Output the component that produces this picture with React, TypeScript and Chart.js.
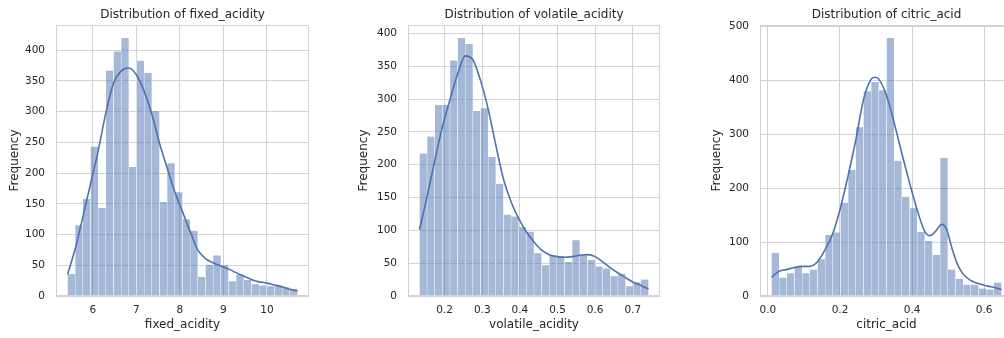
import React, { useEffect, useRef } from "react";
import { Chart, registerables } from "chart.js";

Chart.register(...registerables);

// ---------------- data ----------------
// fixed_acidity histogram (30 bins between first and last edge)
const fixedAcidityEdges = [5.42, 10.70];
const fixedAcidityCounts = [36, 115, 158, 243, 143, 367, 398, 420, 210, 383, 363, 301, 153, 216, 169, 125, 106, 31, 51, 66, 50, 24, 35, 26, 19, 17, 16, 17, 14, 12];
const fixedAcidityKdeX = [5.42, 5.60, 5.77, 5.95, 6.12, 6.30, 6.48, 6.65, 6.83, 7.00, 7.18, 7.36, 7.53, 7.71, 7.88, 8.06, 8.24, 8.41, 8.59, 8.76, 8.94, 9.12, 9.29, 9.47, 9.64, 9.82, 10.00, 10.17, 10.35, 10.52, 10.70];
const fixedAcidityKdeY = [35, 78, 128, 183, 235, 298, 347, 366, 371, 360, 333, 295, 249, 208, 170, 137, 104, 75, 61, 54, 49, 44, 38, 32, 27, 23, 21, 18, 15, 11, 8];
const fixedAcidityXTicks = [6, 7, 8, 9, 10];
const fixedAcidityYTicks = [0, 50, 100, 150, 200, 250, 300, 350, 400];

// volatile_acidity histogram
const volatileAcidityEdges = [0.133, 0.742];
const volatileAcidityCounts = [217, 243, 291, 291, 359, 393, 384, 282, 286, 212, 171, 124, 121, 105, 98, 65, 47, 62, 61, 52, 85, 62, 55, 45, 42, 30, 34, 15, 21, 25];
const volatileAcidityKdeX = [0.133, 0.153, 0.174, 0.194, 0.214, 0.235, 0.255, 0.275, 0.295, 0.316, 0.336, 0.356, 0.377, 0.397, 0.417, 0.438, 0.458, 0.478, 0.498, 0.519, 0.539, 0.559, 0.580, 0.600, 0.620, 0.641, 0.661, 0.681, 0.701, 0.722, 0.742];
const volatileAcidityKdeY = [101, 151, 207, 258, 299, 339, 366, 360, 329, 284, 230, 179, 143, 118, 98, 82, 70, 63, 60, 59, 60, 62, 63, 60, 52, 43, 35, 28, 21, 16, 11];
const volatileAcidityXTicks = [0.2, 0.3, 0.4, 0.5, 0.6, 0.7];
const volatileAcidityYTicks = [0, 50, 100, 150, 200, 250, 300, 350, 400];

// citric_acid histogram
const citricAcidEdges = [0.01, 0.648];
const citricAcidCounts = [80, 34, 42, 55, 42, 49, 68, 113, 118, 173, 234, 313, 380, 397, 382, 479, 251, 184, 163, 119, 102, 76, 256, 49, 32, 21, 21, 14, 12, 25];
const citricAcidKdeX = [0.010, 0.031, 0.052, 0.073, 0.095, 0.116, 0.137, 0.158, 0.180, 0.201, 0.222, 0.244, 0.265, 0.286, 0.297, 0.307, 0.329, 0.350, 0.371, 0.393, 0.414, 0.435, 0.450, 0.465, 0.482, 0.495, 0.510, 0.525, 0.540, 0.560, 0.580, 0.600, 0.620, 0.648];
const citricAcidKdeY = [35, 46, 49, 53, 55, 55, 63, 85, 116, 163, 222, 290, 364, 402, 406, 403, 372, 322, 266, 210, 160, 120, 112, 120, 133, 125, 90, 60, 42, 30, 24, 20, 17, 12];
const citricAcidXTicks = [0.0, 0.2, 0.4, 0.6];
const citricAcidYTicks = [0, 100, 200, 300, 400, 500];

// ---------------- styles ----------------
const FONT = "'DejaVu Sans', sans-serif";
const TEXT = "#262626";
const GRID = "#d2d2d2";
const BAR = "rgba(76,114,176,0.5)";
const LINE = "#4c72b0";

const framePlugin = {
  id: "frame",
  afterDatasetsDraw(chart: any) {
    const { ctx, chartArea: a } = chart;
    ctx.save();
    ctx.strokeStyle = GRID;
    ctx.lineWidth = 1;
    ctx.strokeRect(
      Math.round(a.left) + 0.5,
      Math.round(a.top) + 0.5,
      Math.round(a.right - a.left) - 1,
      Math.round(a.bottom - a.top) - 1
    );
    ctx.restore();
  },
};

type Spec = {
  title: string;
  xLabel: string;
  edges: number[];
  counts: number[];
  kdeX: number[];
  kdeY: number[];
  xTicks: number[];
  yTicks: number[];
  xMin: number;
  xMax: number;
  yMax: number;
  decimals: number;
  left: number;
  width: number;
  axisWidth: number;
  padRight: number;
  yTitlePad: number;
};

function buildConfig(s: Spec): any {
  const n = s.counts.length;
  const w = (s.edges[1] - s.edges[0]) / n;
  const bars = s.counts.map((c, i) => ({ x: s.edges[0] + (i + 0.5) * w, y: c }));
  const kde = s.kdeX.map((x, i) => ({ x, y: s.kdeY[i] }));
  const tickFont = { family: FONT, size: 10.5 };
  const labelFont = { family: FONT, size: 12 };
  return {
    type: "bar",
    data: {
      datasets: [
        {
          type: "line",
          data: kde,
          borderColor: LINE,
          borderWidth: 1.6,
          pointRadius: 0,
          fill: false,
          cubicInterpolationMode: "monotone",
          order: 0,
        },
        {
          type: "bar",
          data: bars,
          backgroundColor: BAR,
          borderColor: "#ffffff",
          borderWidth: { left: 0.5, right: 0.5, top: 0, bottom: 0 },
          borderSkipped: false,
          barPercentage: 1,
          categoryPercentage: 1,
          grouped: false,
          order: 1,
        },
      ],
    },
    options: {
      responsive: false,
      animation: false,
      events: [],
      layout: { autoPadding: false, padding: { left: 0, right: s.padRight, top: 0, bottom: 0 } },
      plugins: {
        legend: { display: false },
        tooltip: { enabled: false },
        title: {
          display: true,
          text: s.title,
          fullSize: false,
          color: TEXT,
          font: { family: FONT, size: 12, weight: "normal" },
          padding: { top: 8, bottom: 2.6 },
        },
      },
      scales: {
        x: {
          type: "linear",
          min: s.xMin,
          max: s.xMax,
          offset: false,
          afterBuildTicks: (scale: any) => {
            scale.ticks = s.xTicks.map((v) => ({ value: v }));
          },
          grid: { color: GRID, drawTicks: false, offset: false, lineWidth: 1 },
          border: { display: false },
          ticks: {
            padding: 8,
            color: TEXT,
            font: tickFont,
            maxRotation: 0,
            autoSkip: false,
            callback: (v: any) => Number(v).toFixed(s.decimals),
          },
          title: {
            display: true,
            text: s.xLabel,
            color: TEXT,
            font: labelFont,
            padding: { top: 0, bottom: 6 },
          },
          afterFit: (scale: any) => {
            scale.height = 42;
          },
        },
        y: {
          type: "linear",
          min: 0,
          max: s.yMax,
          afterBuildTicks: (scale: any) => {
            scale.ticks = s.yTicks.map((v) => ({ value: v }));
          },
          grid: { color: GRID, drawTicks: false, lineWidth: 1 },
          border: { display: false },
          ticks: {
            padding: 11,
            color: TEXT,
            font: tickFont,
            autoSkip: false,
            callback: (v: any) => String(Math.round(Number(v))),
          },
          title: {
            display: true,
            text: "Frequency",
            color: TEXT,
            font: labelFont,
            padding: { top: s.yTitlePad, bottom: 0 },
          },
          afterFit: (scale: any) => {
            scale.width = s.axisWidth;
          },
        },
      },
    },
    plugins: [framePlugin],
  };
}

const specs: Spec[] = [
  {
    title: "Distribution of fixed_acidity",
    xLabel: "fixed_acidity",
    edges: fixedAcidityEdges,
    counts: fixedAcidityCounts,
    kdeX: fixedAcidityKdeX,
    kdeY: fixedAcidityKdeY,
    xTicks: fixedAcidityXTicks,
    yTicks: fixedAcidityYTicks,
    xMin: 5.155,
    xMax: 10.965,
    yMax: 441,
    decimals: 0,
    left: 0,
    width: 330,
    axisWidth: 56,
    padRight: 21,
    yTitlePad: 7.8,
  },
  {
    title: "Distribution of volatile_acidity",
    xLabel: "volatile_acidity",
    edges: volatileAcidityEdges,
    counts: volatileAcidityCounts,
    kdeX: volatileAcidityKdeX,
    kdeY: volatileAcidityKdeY,
    xTicks: volatileAcidityXTicks,
    yTicks: volatileAcidityYTicks,
    xMin: 0.1025,
    xMax: 0.7725,
    yMax: 413,
    decimals: 1,
    left: 350,
    width: 330,
    axisWidth: 58,
    padRight: 20,
    yTitlePad: 6.8,
  },
  {
    title: "Distribution of citric_acid",
    xLabel: "citric_acid",
    edges: citricAcidEdges,
    counts: citricAcidCounts,
    kdeX: citricAcidKdeX,
    kdeY: citricAcidKdeY,
    xTicks: citricAcidXTicks,
    yTicks: citricAcidYTicks,
    xMin: -0.0219,
    xMax: 0.6799,
    yMax: 503,
    decimals: 1,
    left: 700,
    width: 340,
    axisWidth: 60,
    padRight: 27,
    yTitlePad: 9.8,
  },
];

function Panel({ spec }: { spec: Spec }) {
  const ref = useRef<HTMLCanvasElement | null>(null);
  useEffect(() => {
    if (!ref.current) return;
    const chart = new Chart(ref.current, buildConfig(spec));
    return () => chart.destroy();
  }, [spec]);
  return (
    <canvas
      ref={ref}
      width={spec.width}
      height={338}
      style={{ position: "absolute", left: spec.left, top: 0, width: spec.width, height: 338 }}
    />
  );
}

export default function App() {
  return (
    <div
      style={{
        position: "fixed",
        left: 0,
        top: 0,
        width: 1004,
        height: 338,
        overflow: "hidden",
        background: "#ffffff",
      }}
    >
      {specs.map((s) => (
        <Panel key={s.title} spec={s} />
      ))}
    </div>
  );
}
